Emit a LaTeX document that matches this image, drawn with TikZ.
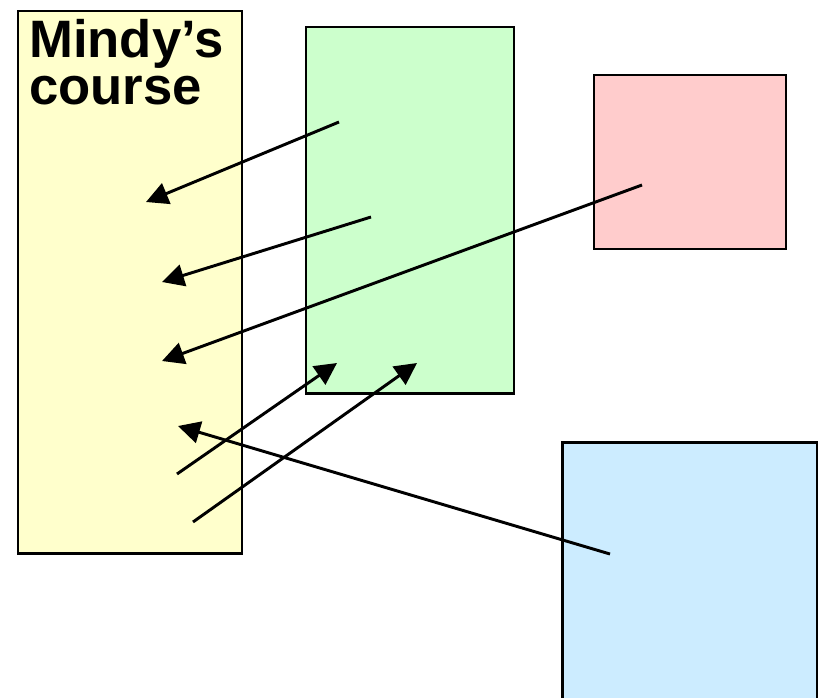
\documentclass[tikz,border=0pt]{standalone}
\usepackage{fontspec}
\setmainfont{Liberation Sans}
\usepackage{xcolor}
\usetikzlibrary{arrows.meta}

\definecolor{mindyyellow}{HTML}{FFFFCC}
\definecolor{mintgreen}{HTML}{CCFFCC}
\definecolor{palepink}{HTML}{FFCCCC}
\definecolor{paleblue}{HTML}{CCECFF}

\begin{document}
\begin{tikzpicture}[
    x=0.75pt, y=-0.75pt,
    panel/.style={
        rectangle,
        draw,
        line width=2.1pt,
        anchor=north west,
        inner sep=0pt
    },
    link/.style={
        -{Triangle[length=16.5pt, width=16.5pt]},
        line width=2.2pt
    }
]
  \clip (0,0) rectangle (821,697);

  \node[panel, fill=mindyyellow, minimum width=168pt, minimum height=407pt] (mindy) at (16.5,9.5) {};
  \node[panel, fill=mintgreen, minimum width=156pt, minimum height=275pt] (green) at (304.5,25.5) {};
  \node[panel, fill=palepink, minimum width=144pt, minimum height=130.5pt] (pink) at (592.5,73.5) {};
  \node[panel, fill=paleblue, minimum width=191pt, minimum height=210pt] (blue) at (561,441) {};

  \node[anchor=north west, inner sep=0pt, align=left,
        font=\bfseries\fontsize{39.5}{35.5}\selectfont] (title) at (29,19) {Mindy’s\\course};

  % arrow ends
  \coordinate (g1) at (339,122);
  \coordinate (g2) at (371,217);
  \coordinate (g3) at (337,363);
  \coordinate (g4) at (417,363);
  \coordinate (p1) at (642,185);
  \coordinate (b1) at (610,554);
  \coordinate (m1) at (146,202);
  \coordinate (m2) at (162,282);
  \coordinate (m3) at (162,361);
  \coordinate (m4) at (177,474);
  \coordinate (m5) at (193,522);
  \coordinate (m6) at (178,426);

  \draw[link] (g1) -- (m1);
  \draw[link] (g2) -- (m2);
  \draw[link] (p1) -- (m3);
  \draw[link] (m4) -- (g3);
  \draw[link] (m5) -- (g4);
  \draw[link] (b1) -- (m6);
\end{tikzpicture}
\end{document}
